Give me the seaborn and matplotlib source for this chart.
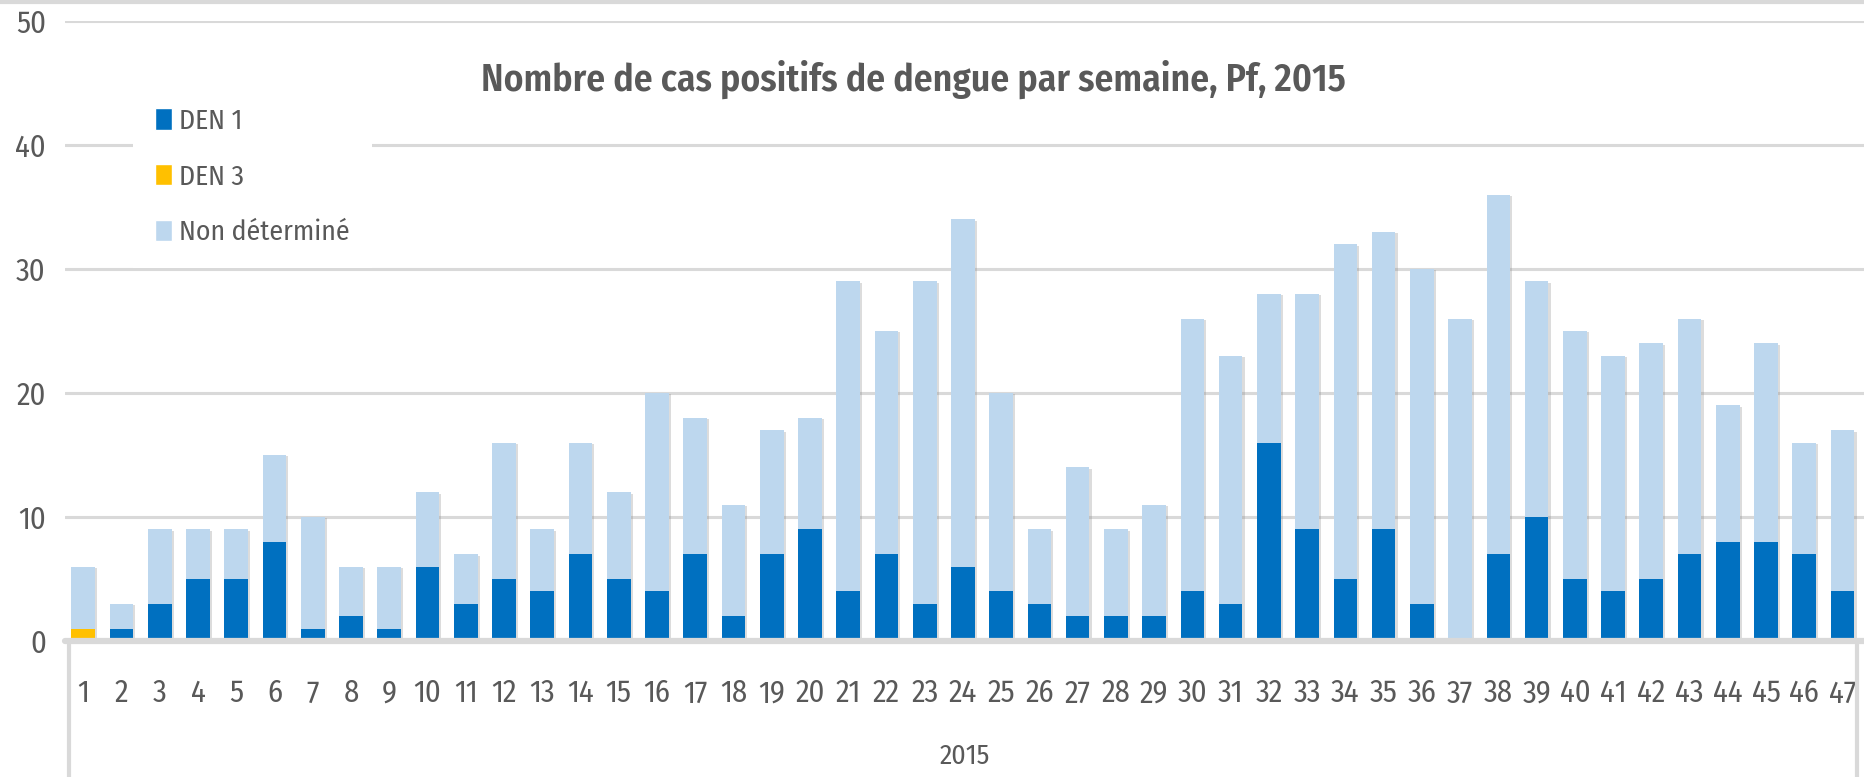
import matplotlib
matplotlib.use("Agg")
import numpy as np
import pandas as pd
import matplotlib.pyplot as plt
import matplotlib.patheffects as pe
from matplotlib.patches import Patch
from matplotlib.lines import Line2D
from matplotlib import font_manager
import seaborn as sns

# weekly counts
weeks = ['1', '2', '3', '4', '5', '6', '7', '8', '9', '10', '11', '12', '13', '14', '15', '16',
         '17', '18', '19', '20', '21', '22', '23', '24', '25', '26', '27', '28', '29', '30', '31', '32',
         '33', '34', '35', '36', '37', '38', '39', '40', '41', '42', '43', '44', '45', '46', '47']
den1 = [0, 1, 3, 5, 5, 8, 1, 2, 1, 6, 3, 5, 4, 7, 5, 4,
        7, 2, 7, 9, 4, 7, 3, 6, 4, 3, 2, 2, 2, 4, 3, 16,
        9, 5, 9, 3, 0, 7, 10, 5, 4, 5, 7, 8, 8, 7, 4]
den3 = [1, 0, 0, 0, 0, 0, 0, 0, 0, 0, 0, 0, 0, 0, 0, 0,
        0, 0, 0, 0, 0, 0, 0, 0, 0, 0, 0, 0, 0, 0, 0, 0,
        0, 0, 0, 0, 0, 0, 0, 0, 0, 0, 0, 0, 0, 0, 0]
non_det = [5, 2, 6, 4, 4, 7, 9, 4, 5, 6, 4, 11, 5, 9, 7, 16,
           11, 9, 10, 9, 25, 18, 26, 28, 16, 6, 12, 7, 9, 22, 20, 12,
           19, 27, 24, 27, 26, 29, 19, 20, 19, 19, 19, 11, 16, 9, 13]
year_label = '2015'
title = 'Nombre de cas positifs de dengue par semaine, Pf, 2015'

c_den1 = '#0070C0'
c_den3 = '#FFC000'
c_nd = '#BDD7EE'
grey_txt = '#595959'
grey_line = '#D9D9D9'

sns.set_theme(style='white')
names = {f.name for f in font_manager.fontManager.ttflist}
fam = 'DejaVu Sans'
for cand in ['Fira Sans Condensed', 'Roboto Condensed', 'Open Sans Condensed', 'Liberation Sans Narrow']:
    if cand in names:
        fam = cand
        break
plt.rcParams['font.family'] = [fam, 'DejaVu Sans']

df = pd.DataFrame({'week': weeks, 'den1': den1, 'den3': den3, 'nd': non_det})
df['s1'] = df['den1']
df['s2'] = df['den1'] + df['den3']
df['s3'] = df['s2'] + df['nd']

fig = plt.figure(figsize=(18.64, 7.77), dpi=100)
ax = fig.add_axes([0.035, 0.175, 0.965, 0.798])

w = 0.62
shadow = [pe.SimplePatchShadow(offset=(1.5, -1), shadow_rgbFace='#8c8c8c', alpha=0.3), pe.Normal()]
sns.barplot(data=df, x='week', y='s3', color=c_nd, saturation=1, width=w, ax=ax, zorder=3,
            linewidth=0)
for p in ax.patches:
    p.set_path_effects(shadow)
sns.barplot(data=df, x='week', y='s2', color=c_den3, saturation=1, width=w, ax=ax, zorder=4,
            linewidth=0)
sns.barplot(data=df, x='week', y='s1', color=c_den1, saturation=1, width=w, ax=ax, zorder=5,
            linewidth=0)

ax.set_ylim(0, 50)
ax.set_xlim(-0.47, len(weeks) - 0.44)
ax.set_yticks([0, 10, 20, 30, 40, 50])
ax.yaxis.grid(True, color=grey_line, linewidth=2.2, zorder=0)
ax.set_axisbelow(True)
for s in ax.spines.values():
    s.set_visible(False)
ax.axhline(0, color=grey_line, linewidth=4.5, zorder=6, clip_on=False)
ax.set_xlabel('')
ax.set_ylabel('')
ax.tick_params(axis='x', length=0, pad=27, labelsize=22, labelcolor=grey_txt)
ax.tick_params(axis='y', length=0, pad=14, labelsize=22, labelcolor=grey_txt)

ax.text(0.5, -0.186, year_label, transform=ax.transAxes, ha='center', va='center',
        fontsize=20, color=grey_txt)
fig.text(0.49, 0.898, title, ha='center', va='center', fontsize=27, fontweight='semibold',
         color=grey_txt)

# frame of the category axis box and top border
fig.add_artist(Line2D([0.037, 0.037], [0.0, 0.175], color=grey_line, linewidth=3))
fig.add_artist(Line2D([0.9965, 0.9965], [0.0, 0.175], color=grey_line, linewidth=3))
fig.add_artist(Line2D([0.0, 1.0], [0.997, 0.997], color=grey_line, linewidth=3))

handles = [Patch(facecolor=c_den1, label='DEN 1'),
           Patch(facecolor=c_den3, label='DEN 3'),
           Patch(facecolor=c_nd, label='Non déterminé')]
leg = ax.legend(handles=handles, loc='upper left', bbox_to_anchor=(0.064, 0.908),
                bbox_transform=fig.transFigure, frameon=True, fancybox=False,
                framealpha=1, facecolor='white', edgecolor='none', fontsize=20,
                handlelength=0.6, handleheight=0.8, handletextpad=0.25,
                labelspacing=1.05, borderpad=0.8)
for t in leg.get_texts():
    t.set_color(grey_txt)
leg.set_zorder(10)

fig.savefig('out.png', dpi=100, facecolor='white')
